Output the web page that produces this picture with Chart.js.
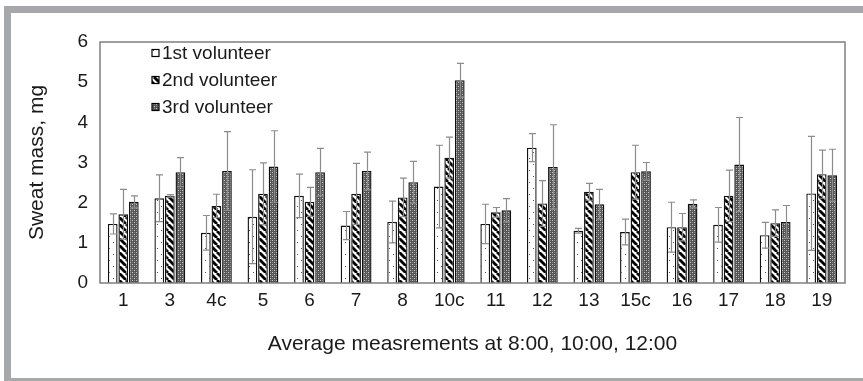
<!DOCTYPE html>
<html>
<head>
<meta charset="utf-8">
<script src="https://cdn.jsdelivr.net/npm/chart.js@4"></script>
<style>
  html, body { margin: 0; padding: 0; background: #fff; overflow: hidden; }
  #wrap { position: relative; width: 863px; height: 381px; overflow: hidden; }
  #frame { position: absolute; left: 4px; top: 6px; width: 900px; height: 365px; border: 7px solid #a7a8ab; }
  canvas { position: absolute; left: 0; top: 0; }
</style>
</head>
<body>
<div id="wrap">
  <div id="frame"></div>
  <canvas id="chart" width="863" height="381"></canvas>
</div>
<script>
const categories = ["1", "3", "4c", "5", "6", "7", "8", "10c", "11", "12", "13", "15c", "16", "17", "18", "19"];
const seriesNames = ["1st volunteer", "2nd volunteer", "3rd volunteer"];

const volunteer1 = [1.47, 2.11, 1.25, 1.65, 2.17, 1.43, 1.52, 2.40, 1.47, 3.37, 1.30, 1.27, 1.39, 1.45, 1.19, 2.23];
const volunteer2 = [1.71, 2.17, 1.92, 2.22, 2.02, 2.22, 2.13, 3.12, 1.76, 1.98, 2.27, 2.76, 1.39, 2.17, 1.49, 2.71];
const volunteer3 = [2.02, 2.76, 2.79, 2.90, 2.76, 2.79, 2.51, 5.05, 1.81, 2.89, 1.96, 2.78, 1.97, 2.95, 1.52, 2.68];

// standard deviations (error bars)
const error1 = [0.25, 0.58, 0.43, 1.17, 0.54, 0.35, 0.52, 1.03, 0.49, 0.35, 0.06, 0.32, 0.62, 0.43, 0.32, 1.42];
const error2 = [0.62, 0.03, 0.29, 0.77, 0.36, 0.76, 0.48, 0.51, 0.12, 0.57, 0.21, 0.67, 0.34, 0.64, 0.33, 0.60];
const error3 = [0.15, 0.36, 0.98, 0.89, 0.59, 0.47, 0.52, 0.42, 0.29, 1.05, 0.37, 0.22, 0.10, 1.17, 0.41, 0.65];

const yTicks = [0, 1, 2, 3, 4, 5, 6];

const FONT = "'Liberation Sans', Arial, sans-serif";

function makePattern(draw, w, h) {
    const c = document.createElement('canvas');
    c.width = w;
    c.height = h;
    draw(c.getContext('2d'), w, h);
    return c.getContext('2d').createPattern(c, 'repeat');
}

// sparse dots on white
const dotsPattern = makePattern((ctx, w, h) => {
    ctx.fillStyle = '#fff';
    ctx.fillRect(0, 0, w, h);
    ctx.fillStyle = '#555';
    ctx.fillRect(1, 2, 1, 1);
    ctx.fillRect(5, 8, 1, 1);
}, 8, 12);

// wide downward diagonal
const stripePattern = makePattern((ctx, w, h) => {
    ctx.fillStyle = '#fff';
    ctx.fillRect(0, 0, w, h);
    ctx.strokeStyle = '#000';
    ctx.lineWidth = 2.8;
    for (let x0 of [-w, 0, w]) {
        ctx.beginPath();
        ctx.moveTo(x0, 0);
        ctx.lineTo(x0 + w, h);
        ctx.stroke();
    }
}, 7, 7);

// dark stipple
const stipplePattern = makePattern((ctx, w, h) => {
    ctx.fillStyle = '#555';
    ctx.fillRect(0, 0, w, h);
    ctx.fillStyle = '#c8c8c8';
    ctx.fillRect(0, 0, 1, 1);
    ctx.fillRect(2, 2, 1, 1);
    ctx.fillStyle = '#888';
    ctx.fillRect(2, 0, 1, 1);
    ctx.fillRect(0, 2, 1, 1);
}, 4, 4);

const errorBars = {
    id: 'errorBars',
    afterDatasetsDraw(chart) {
        const ctx = chart.ctx;
        const y = chart.scales.y;
        ctx.save();
        ctx.strokeStyle = '#8c8c8c';
        ctx.lineWidth = 1.2;
        chart.data.datasets.forEach((ds, i) => {
            const meta = chart.getDatasetMeta(i);
            meta.data.forEach((bar, j) => {
                const v = ds.data[j];
                const e = ds.errors[j];
                const top = y.getPixelForValue(v + e);
                const bot = y.getPixelForValue(v - e);
                const x = Math.round(bar.x) + 0.5;
                ctx.beginPath();
                ctx.moveTo(x, top);
                ctx.lineTo(x, bot);
                ctx.moveTo(x - 3.5, top);
                ctx.lineTo(x + 3.5, top);
                ctx.moveTo(x - 3.5, bot);
                ctx.lineTo(x + 3.5, bot);
                ctx.stroke();
            });
        });
        ctx.restore();
    }
};

const plotFrame = {
    id: 'plotFrame',
    afterDraw(chart) {
        const a = chart.chartArea;
        const ctx = chart.ctx;
        ctx.save();
        ctx.strokeStyle = '#7f7f7f';
        ctx.lineWidth = 1.5;
        ctx.strokeRect(a.left, a.top, a.right - a.left, a.bottom - a.top);
        ctx.restore();
    }
};

const innerLegend = {
    id: 'innerLegend',
    afterDraw(chart) {
        const a = chart.chartArea;
        const ctx = chart.ctx;
        ctx.save();
        ctx.font = '19px ' + FONT;
        ctx.textBaseline = 'middle';
        chart.data.datasets.forEach((ds, i) => {
            const cy = a.top + 11 + i * 27;
            const bx = a.left + 52;
            ctx.fillStyle = ds.backgroundColor;
            ctx.fillRect(bx, cy - 3.5, 7, 7);
            ctx.strokeStyle = '#000';
            ctx.lineWidth = 1.2;
            ctx.strokeRect(bx, cy - 3.5, 7, 7);
            ctx.fillStyle = '#1a1a1a';
            ctx.fillText(ds.label, bx + 10, cy + 1);
        });
        ctx.restore();
    }
};

new Chart(document.getElementById('chart'), {
    type: 'bar',
    data: {
        labels: categories,
        datasets: [
            { label: seriesNames[0], data: volunteer1, errors: error1, backgroundColor: dotsPattern },
            { label: seriesNames[1], data: volunteer2, errors: error2, backgroundColor: stripePattern },
            { label: seriesNames[2], data: volunteer3, errors: error3, backgroundColor: stipplePattern }
        ].map(ds => Object.assign(ds, {
            borderColor: '#111',
            borderWidth: 1.4,
            borderSkipped: 'bottom',
            categoryPercentage: 0.68,
            barPercentage: 0.92
        }))
    },
    options: {
        responsive: false,
        animation: false,
        layout: { padding: { top: 42, right: 18, bottom: 0, left: 0 } },
        plugins: {
            legend: { display: false },
            tooltip: { enabled: false }
        },
        scales: {
            x: {
                grid: { display: false, drawTicks: false },
                border: { display: false },
                ticks: { color: '#1a1a1a', font: { family: FONT, size: 19 }, padding: 6, maxRotation: 0, autoSkip: false },
                title: {
                    display: true,
                    text: 'Average measrements at 8:00, 10:00, 12:00',
                    color: '#1a1a1a',
                    font: { family: FONT, size: 21 },
                    padding: { top: 0, bottom: 24 }
                },
                afterFit(scale) { scale.height = 98; }
            },
            y: {
                min: 0,
                max: 6,
                afterBuildTicks(scale) { scale.ticks = yTicks.map(v => ({ value: v })); },
                grid: { display: false, drawTicks: false },
                border: { display: false },
                ticks: { color: '#1a1a1a', font: { family: FONT, size: 19 }, padding: 12 },
                title: {
                    display: true,
                    text: 'Sweat mass, mg',
                    color: '#1a1a1a',
                    font: { family: FONT, size: 21 },
                    padding: { top: 25, bottom: 0 }
                },
                afterFit(scale) { scale.width = 100; }
            }
        }
    },
    plugins: [errorBars, plotFrame, innerLegend]
});
</script>
</body>
</html>
